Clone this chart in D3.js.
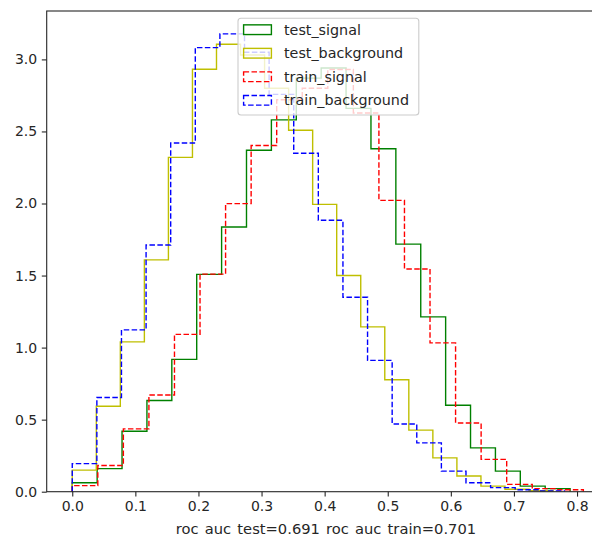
<!DOCTYPE html>
<html>
<head>
<meta charset="utf-8">
<script src="https://cdn.jsdelivr.net/npm/d3@7/dist/d3.min.js"></script>
<style>
  body { margin: 0; background: #fff; }
  text { font-family: "DejaVu Sans", sans-serif; fill: #262626; }
</style>
</head>
<body>
<svg id="chart" width="592" height="538"></svg>
<script>
// Normalised histogram densities (20 bins each) of classifier output
const seriesNames = ["test_signal", "test_background", "train_signal", "train_background"];
const testSignal = [0.062, 0.160, 0.420, 0.633, 0.918, 1.508, 1.837, 2.370, 2.580, 2.870,
                    2.940, 2.660, 2.380, 1.718, 1.213, 0.600, 0.304, 0.143, 0.039, 0.021];
const testBackground = [0.150, 0.593, 1.040, 1.609, 2.320, 2.932, 3.105, 3.030, 2.800, 2.508,
                        1.994, 1.500, 1.144, 0.777, 0.427, 0.235, 0.109, 0.039, 0.017, 0.007];
const trainSignal = [0.042, 0.182, 0.436, 0.671, 1.092, 1.510, 1.999, 2.402, 2.720, 2.800,
                     2.930, 2.628, 2.022, 1.545, 1.033, 0.477, 0.224, 0.051, 0.021, 0.014];
const trainBackground = [0.195, 0.654, 1.123, 1.712, 2.420, 3.082, 3.177, 3.050, 2.757, 2.349,
                         1.884, 1.349, 0.911, 0.470, 0.339, 0.143, 0.062, 0.028, 0.014, 0.006];
// Bin range of each histogram
const testSignalRange = [0, 0.789];
const testBackgroundRange = [0, 0.762];
const trainSignalRange = [0, 0.810];
const trainBackgroundRange = [0, 0.780];

const xTicks = [0.0, 0.1, 0.2, 0.3, 0.4, 0.5, 0.6, 0.7, 0.8];
const yTicks = [0.0, 0.5, 1.0, 1.5, 2.0, 2.5, 3.0];
const xLabel = "roc auc test=0.691 roc auc train=0.701";

const series = [
  { name: seriesNames[0], values: testSignal, range: testSignalRange, color: "#008000", dash: null },
  { name: seriesNames[1], values: testBackground, range: testBackgroundRange, color: "#bfbf00", dash: null },
  { name: seriesNames[2], values: trainSignal, range: trainSignalRange, color: "#ff0000", dash: "5.5,2.4" },
  { name: seriesNames[3], values: trainBackground, range: trainBackgroundRange, color: "#0000ff", dash: "5.5,2.4" }
];

// Axes box (the right part runs past the canvas edge)
const axLeft = 46.7, axTop = 11, axBottom = 491.7, axRight = 608.9;
const tickFs = 14, legendFs = 14.3, labelFs = 14.7;

const xMax = d3.max(series, s => s.range[1]);
const xPad = 0.05 * xMax;
const x = d3.scaleLinear().domain([-xPad, xMax + xPad]).range([axLeft, axRight]);
const yMax = d3.max(series, s => d3.max(s.values)) * 1.05;
const y = d3.scaleLinear().domain([0, yMax]).range([axBottom, axTop]);

const svg = d3.select("#chart");

svg.append("defs").append("clipPath").attr("id", "plotClip")
  .append("rect").attr("x", axLeft).attr("y", axTop)
  .attr("width", axRight - axLeft).attr("height", axBottom - axTop);

// Step outlines
const line = d3.line().x(d => x(d[0])).y(d => y(d[1]));
const plot = svg.append("g").attr("clip-path", "url(#plotClip)");
series.forEach(s => {
  const n = s.values.length;
  const w = (s.range[1] - s.range[0]) / n;
  const pts = [[s.range[0], 0]];
  s.values.forEach((v, i) => {
    pts.push([s.range[0] + i * w, v]);
    pts.push([s.range[0] + (i + 1) * w, v]);
  });
  pts.push([s.range[1], 0]);
  plot.append("path")
    .attr("d", line(pts))
    .attr("fill", "none")
    .attr("stroke", s.color)
    .attr("stroke-width", 1.4)
    .attr("stroke-dasharray", s.dash)
    .attr("stroke-linejoin", "miter");
});

// Axes
const xAxis = d3.axisBottom(x).tickValues(xTicks).tickFormat(d3.format(".1f"))
  .tickSize(4.9).tickPadding(4.6);
const yAxis = d3.axisLeft(y).tickValues(yTicks).tickFormat(d3.format(".1f"))
  .tickSize(4.9).tickPadding(4.6);

const gx = svg.append("g").attr("transform", `translate(0,${axBottom})`).call(xAxis);
const gy = svg.append("g").attr("transform", `translate(${axLeft},0)`).call(yAxis);
[gx, gy].forEach(g => {
  g.select(".domain").remove();
  g.selectAll(".tick line").attr("stroke", "#262626").attr("stroke-width", 1.1);
  g.selectAll(".tick text").style("font-size", tickFs + "px").style("font-family", "DejaVu Sans").attr("fill", "#262626");
});

// Spines
svg.append("rect")
  .attr("x", axLeft).attr("y", axTop)
  .attr("width", axRight - axLeft).attr("height", axBottom - axTop)
  .attr("fill", "none").attr("stroke", "#262626").attr("stroke-width", 1.1);

// X axis label
svg.append("text")
  .attr("x", 326)
  .attr("y", 534)
  .attr("text-anchor", "middle")
  .style("font-size", labelFs + "px")
  .style("word-spacing", "1.5px")
  .text(xLabel);

// Legend
const lgX = 238, lgY = 18.3, lgW = 180.8, lgH = 96.7;
const legend = svg.append("g");
legend.append("rect")
  .attr("x", lgX).attr("y", lgY).attr("width", lgW).attr("height", lgH)
  .attr("rx", 3).attr("ry", 3)
  .attr("fill", "#fff").attr("fill-opacity", 0.8)
  .attr("stroke", "#cccccc").attr("stroke-width", 1.1);
const rowY = d3.scalePoint().domain(seriesNames).range([29.7, 100.3]);
series.forEach(s => {
  const cy = rowY(s.name);
  legend.append("rect")
    .attr("x", 243.6).attr("y", cy - 4.85)
    .attr("width", 27.8).attr("height", 9.7)
    .attr("fill", "none").attr("stroke", s.color)
    .attr("stroke-width", 1.4)
    .attr("stroke-dasharray", s.dash);
  legend.append("text")
    .attr("x", 284).attr("y", cy).attr("dy", "0.36em")
    .style("font-size", legendFs + "px")
    .text(s.name);
});
</script>
</body>
</html>
